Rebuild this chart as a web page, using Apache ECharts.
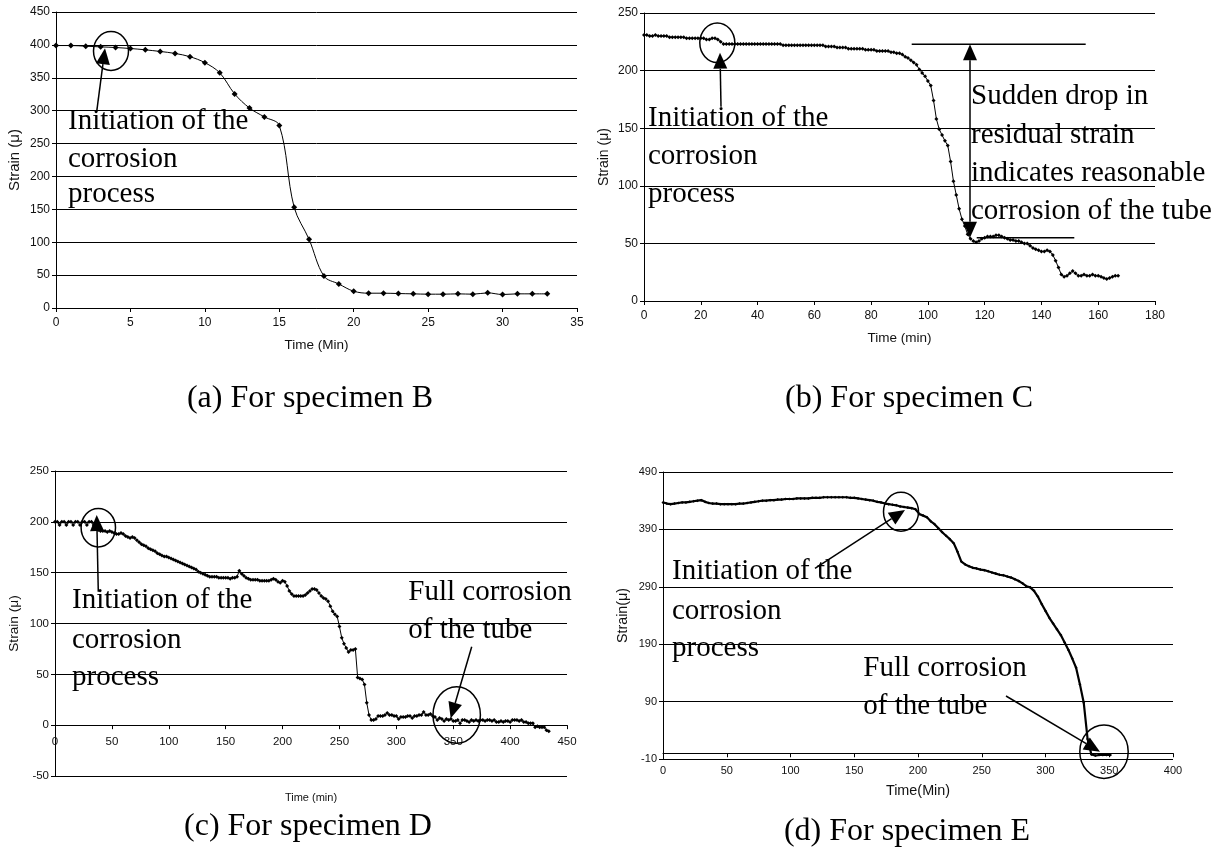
<!DOCTYPE html>
<html><head><meta charset="utf-8">
<script src="https://cdn.jsdelivr.net/npm/echarts/dist/echarts.min.js"></script>
<style>html,body{margin:0;padding:0;background:#fff}#c{width:1229px;height:848px}</style>
</head><body><div id="c"></div>
<script>
// ---------- DATA ----------
// (a) specimen B, one reading per minute
const aTime = [0,1,2,3,4,5,6,7,8,9,10,11,12,13,14,15,16,17,18,19,20,21,22,23,24,25,26,27,28,29,30,31,32,33];
const aStrain = [399,399,398,397,396,394.5,392.5,390,387,382,373,357.5,325.5,304,290.5,277.5,153,104.5,48.5,36.5,25.5,22.5,22.5,22,21.5,21,21,21.5,21,23,20.5,21.5,21.5,21.5];

// (b) specimen C, readings every minute from t=0
const bStep = 1;
const bStrain = [231,231,230,230,231,230,230,230,230,229,229,229,229,229,229,228,228,228,228,228,
228,228,227,227,228,228,227,225,223,223,223,223,223,223,223,223,223,223,223,223,
223,223,223,223,223,223,223,223,223,222,222,222,222,222,222,222,222,222,222,222,
222,222,222,222,221,221,221,221,220,220,220,220,219,219,219,219,219,219,218,218,
218,218,217,217,217,217,217,216,216,215,215,214,212,211,209,207,205,201,198,195,
191,187,174,158,149,144,139,135,121,104,92,80,71,65,58,54,52,51,52,54,
55,56,56,56,57,57,56,55,54,53,53,52,52,51,50,50,48,46,45,44,
43,43,44,43,40,35,29,23,21,22,24,26,24,22,22,23,22,22,23,22,
22,21,20,19,20,21,22,22];

// (c) specimen D, readings every 2 minutes from t=0
const cStep = 2;
const cStrain = [200,200,197,200,200,197,200,200,197,200,200,197,200,200,197,200,200,197,199,192,
191,191,191,190,191,190,189,188,188,189,188,186,185,184,185,184,182,180,178,177,
176,174,173,172,171,169,168,167,166,166,165,164,163,162,161,160,159,158,157,156,
155,154,153,151,150,149,148,147,146,146,146,146,145,145,145,145,145,144,145,145,
146,152,149,147,145,144,143,143,143,143,142,142,142,142,142,143,144,143,141,140,
142,141,137,132,129,127,127,127,127,127,128,130,132,134,134,133,130,127,125,124,
122,117,112,109,107,97,86,80,76,72,74,74,75,47,46,45,40,22,10,5,
5,6,9,9,9,10,12,10,10,9,9,6,8,8,8,9,9,7,9,9,
10,10,13,10,10,11,9,8,5,7,6,4,6,5,6,4,4,5,2,5,
5,4,3,5,4,5,4,5,5,4,5,5,4,5,3,3,4,3,4,4,
3,5,5,5,4,5,3,3,2,2,2,-2,-1,-2,-2,-2,-5,-6];

// (d) specimen E, readings every 3 minutes from t=0
const dStep = 3;
const dStrain = [437,435,434,435,436,437,437,438,439,440,441,438,436,435,435,434,434,434,434,434,
435,435,436,437,438,439,440,440,441,441,442,442,443,443,443,444,444,444,444,445,
445,445,446,446,446,446,446,446,446,445,445,444,443,442,441,440,438,437,435,434,
433,432,430,429,428,427,425,417,414,411,404,399,392,385,379,373,366,351,334,329,
326,323,322,320,319,317,315,313,311,310,308,306,303,300,296,291,289,283,273,260,
248,236,226,216,206,193,180,165,149,120,88,25,-2,-4,-3,-3,-3,-3];

const yNames = ['Strain (\u03bc)','Strain (\u03bc)','Strain (\u03bc)','Strain(\u03bc)'];
const xNames = ['Time (Min)','Time (min)','Time (min)','Time(Min)'];
const captions = ['(a) For specimen B','(b) For specimen C','(c) For specimen D','(d) For specimen E'];

// ---------- CHART ----------
const SANS = 'Liberation Sans, Arial, sans-serif';
const SERIF = 'Liberation Serif, Times New Roman, serif';
const chart = echarts.init(document.getElementById('c'), null, {renderer:'canvas'});

function pairsFromStep(step, vals){ return vals.map((v,i)=>[i*step, v]); }
const seriesData = [
  aTime.map((t,i)=>[t,aStrain[i]]),
  pairsFromStep(bStep,bStrain),
  pairsFromStep(cStep,cStrain),
  pairsFromStep(dStep,dStrain)
];

const grids = [
  {left:56, top:12, width:521, height:296},
  {left:644, top:13, width:511, height:288},
  {left:55, top:471, width:512, height:305},
  {left:663, top:472, width:510, height:287}
];
// per-panel text sizes (each sub-figure was pasted at its own scale)
const lblFont = [12, 12, 11.5, 11];
const xNameFont = [13.5, 13.5, 11, 14.4];
const yNameFont = [15, 14, 13.7, 14.3];
const xCfg = [
  {min:0,max:35,interval:5,gap:30,margin:9},
  {min:0,max:180,interval:20,gap:30,margin:9},
  {min:0,max:450,interval:50,gap:16.5,margin:-40},
  {min:0,max:400,interval:50,gap:25,margin:6}
];
const yCfg = [
  {min:0,max:450,interval:50,gap:34},
  {min:0,max:250,interval:50,gap:33},
  {min:-50,max:250,interval:50,gap:33.5},
  {min:-10,max:490,interval:100,gap:33}
];
const symSize=[6,4,4,3];
const lineW=[1,1,1,2.2];

const option = {
  animation:false,
  backgroundColor:'#fff',
  grid: grids.map(g=>Object.assign({containLabel:false},g)),
  xAxis: xCfg.map((c,i)=>({
    type:'value', gridIndex:i, min:c.min, max:c.max, interval:c.interval,
    name:xNames[i], nameLocation:'middle', nameGap:c.gap, nameMoveOverlap:false,
    nameTextStyle:{color:'#111', fontFamily:SANS, fontSize:xNameFont[i]},
    axisLine:{show:true, onZero:true, lineStyle:{color:'#000', width:1}},
    axisTick:{show:true, length:4, lineStyle:{color:'#000'}},
    axisLabel:{margin:c.margin, color:'#111', fontFamily:SANS, fontSize:lblFont[i], showMinLabel:true, showMaxLabel:true, hideOverlap:false},
    splitLine:{show:false}
  })),
  yAxis: yCfg.map((c,i)=>({
    type:'value', gridIndex:i, min:c.min, max:c.max, interval:c.interval,
    name:yNames[i], nameLocation:'middle', nameGap:c.gap, nameRotate:90, nameMoveOverlap:false,
    nameTextStyle:{color:'#111', fontFamily:SANS, fontSize:yNameFont[i]},
    axisLine:{show:true, lineStyle:{color:'#000', width:1}},
    axisTick:{show:true, length:4, lineStyle:{color:'#000'}},
    axisLabel:{margin:6, color:'#111', fontFamily:SANS, fontSize:lblFont[i], showMinLabel:true, showMaxLabel:true, hideOverlap:false},
    splitLine:{show:true, showMinLine:true, showMaxLine:true, lineStyle:{color:'#000', width:1}}
  })),
  series: seriesData.map((d,i)=>({
    type:'line', xAxisIndex:i, yAxisIndex:i, data:d,
    smooth: i===0 ? 0.35 : false,
    symbol:'diamond', symbolSize:symSize[i], showSymbol:true,
    itemStyle:{color:'#000'}, lineStyle:{color:'#000', width:lineW[i]},
    silent:true, z:3
  }))
};

// ---------- ANNOTATIONS (pixel layout) ----------
const g = [];
function txtLines(x, ys, lines){
  lines.forEach((s,k)=>g.push({type:'text', x:x, y:ys[k], z:10,
    style:{text:s, x:0, y:0, fill:'#000', font:'29px '+SERIF, textAlign:'left', textVerticalAlign:'middle'}}));
}
function arrow(x1,y1,x2,y2){
  const L=16, W=7;
  const dx=x2-x1, dy=y2-y1, len=Math.hypot(dx,dy), ux=dx/len, uy=dy/len;
  const bx=x2-ux*L, by=y2-uy*L;
  g.push({type:'line', z:10, shape:{x1:x1,y1:y1,x2:bx,y2:by}, style:{stroke:'#000', lineWidth:1.5}});
  g.push({type:'polygon', z:10, shape:{points:[[x2,y2],[bx-uy*W,by+ux*W],[bx+uy*W,by-ux*W]]}, style:{fill:'#000'}});
}
function ell(cx,cy,rx,ry){
  g.push({type:'ellipse', z:10, shape:{cx:cx,cy:cy,rx:rx,ry:ry}, style:{fill:'none', stroke:'#000', lineWidth:1.5}});
}
function hline(x1,x2,y){ g.push({type:'line', z:10, shape:{x1:x1,y1:y,x2:x2,y2:y}, style:{stroke:'#000', lineWidth:1.5}}); }

// (a)
txtLines(68,[121,159,194],['Initiation of the','corrosion','process']);
arrow(96.7,111.7,105,48.3); ell(111,51,17.5,19.5);
// (b)
txtLines(648,[118.3,156.7,194],['Initiation of the','corrosion','process']);
arrow(721,106.7,720,52.7); ell(717.3,42.7,17.5,19.7);
hline(911.7,1085.7,44.3); hline(976.7,1074.3,237.7);
arrow(970,140,970,44.3); arrow(970,140,970,237.7);
txtLines(971,[96.7,135,173.3,211.7],['Sudden drop in','residual strain','indicates reasonable','corrosion of the tube']);
// (c)
txtLines(72,[600.7,640,677.3],['Initiation of the','corrosion','process']);
arrow(98.3,591.7,96.7,515); ell(98.3,527.7,17.2,19.2);
txtLines(408.3,[592.7,630],['Full corrosion','of the tube']);
arrow(471.7,646.7,450.7,718.3); ell(456.7,715,23.7,28.3);
// (d)
txtLines(672,[571.7,611,648.3],['Initiation of the','corrosion','process']);
arrow(815,568.3,905,510); ell(901,511.7,17.5,19.5);
txtLines(863.3,[668.3,706.7],['Full corrosion','of the tube']);
arrow(1006,696,1100,751.7); ell(1104,751.7,24.2,26.7);

// captions
const capPos = [[310,399],[909,399],[308,827],[907,832]];
captions.forEach((s,i)=>g.push({type:'text', x:capPos[i][0], y:capPos[i][1], z:10,
  style:{text:s, x:0, y:0, fill:'#000', font:'32px '+SERIF, textAlign:'center', textVerticalAlign:'middle'}}));

option.graphic = {elements:g};
chart.setOption(option);
</script></body></html>
